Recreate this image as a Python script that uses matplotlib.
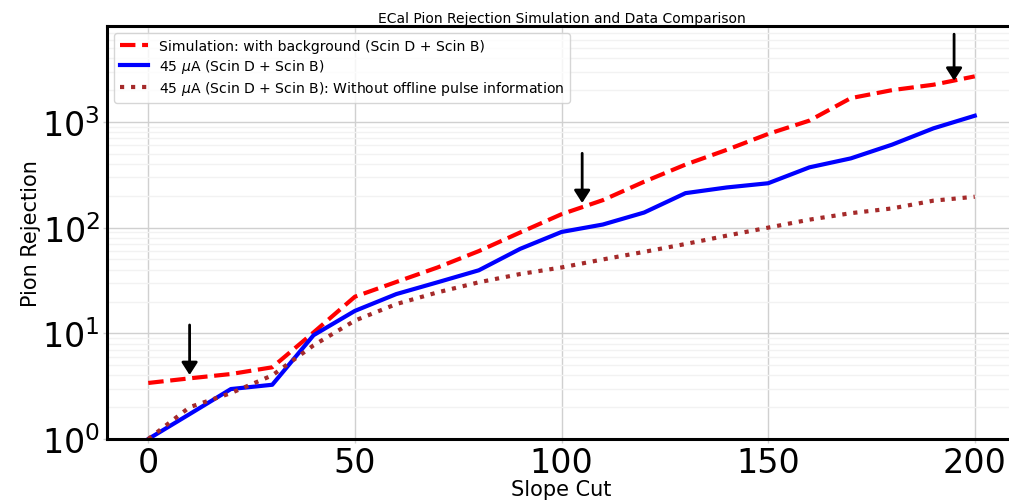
import matplotlib
matplotlib.use("Agg")
import matplotlib.pyplot as plt

slope_cut = [0, 10, 20, 30, 40, 50, 60, 70, 80, 90, 100, 110, 120, 130, 140, 150, 160, 170, 180, 190, 200]
sim_bkg = [3.39, 3.75, 4.12, 4.77, 10.2, 22.2, 30.6, 42, 60, 90, 134, 182, 272, 395, 545, 770, 1030, 1680, 2000, 2250, 2700]
data_45uA = [1.0, 1.72, 2.97, 3.26, 9.6, 16.3, 23.5, 30.4, 39.5, 63, 91, 107, 139, 212, 240, 263, 372, 452, 610, 870, 1145]
data_45uA_nopulse = [1.0, 2.0, 2.72, 4.0, 7.7, 13.2, 18.9, 24.4, 30.4, 36.4, 42, 50, 59, 70, 84, 100, 119, 137, 152, 180, 196]

arrow_x = [10, 105, 195]
arrow_tip = [4.03, 171, 2455]
arrow_tail = [12, 505, 6770]

labels = ["Simulation: with background (Scin D + Scin B)",
          r"45 $\mu$A (Scin D + Scin B)",
          r"45 $\mu$A (Scin D + Scin B): Without offline pulse information"]

fig = plt.figure(figsize=(10.09, 5.02), dpi=100)
ax = fig.add_axes([0.106, 0.1235, 0.901, 0.8225])

ax.plot(slope_cut, sim_bkg, color="red", ls="--", lw=3, label=labels[0])
ax.plot(slope_cut, data_45uA, color="blue", ls="-", lw=3, label=labels[1])
ax.plot(slope_cut, data_45uA_nopulse, color="brown", ls=":", lw=3, label=labels[2])

for x, tip, tail in zip(arrow_x, arrow_tip, arrow_tail):
    ax.annotate("", xy=(x, tip), xytext=(x, tail),
                arrowprops=dict(arrowstyle="-|>,head_width=0.48,head_length=0.75",
                                color="black", lw=2, shrinkA=0, shrinkB=0))

ax.set_yscale("log")
ax.set_xlim(-10, 210)
ax.set_ylim(1, 8070)
ax.set_xticks([0, 50, 100, 150, 200])

ax.grid(True, which="major", color="#d0d0d0", lw=1)
ax.grid(True, which="minor", axis="y", color="#f2f2f2", lw=1)
ax.set_axisbelow(True)

ax.tick_params(axis="both", which="major", labelsize=24, color="#d0d0d0", length=3, width=1, pad=2)
ax.tick_params(axis="both", which="minor", length=0)

for s in ["left", "bottom", "top"]:
    ax.spines[s].set_linewidth(2.2)
    ax.spines[s].set_color("black")
ax.spines["right"].set_visible(False)

ax.set_xlabel("Slope Cut", fontsize=15, labelpad=0)
ax.set_ylabel("Pion Rejection", fontsize=15, labelpad=1)
ax.set_title("ECal Pion Rejection Simulation and Data Comparison", fontsize=10, pad=3)

ax.legend(loc="upper left", fontsize=10.1, labelspacing=0.3)

fig.savefig("out.png", dpi=100)
